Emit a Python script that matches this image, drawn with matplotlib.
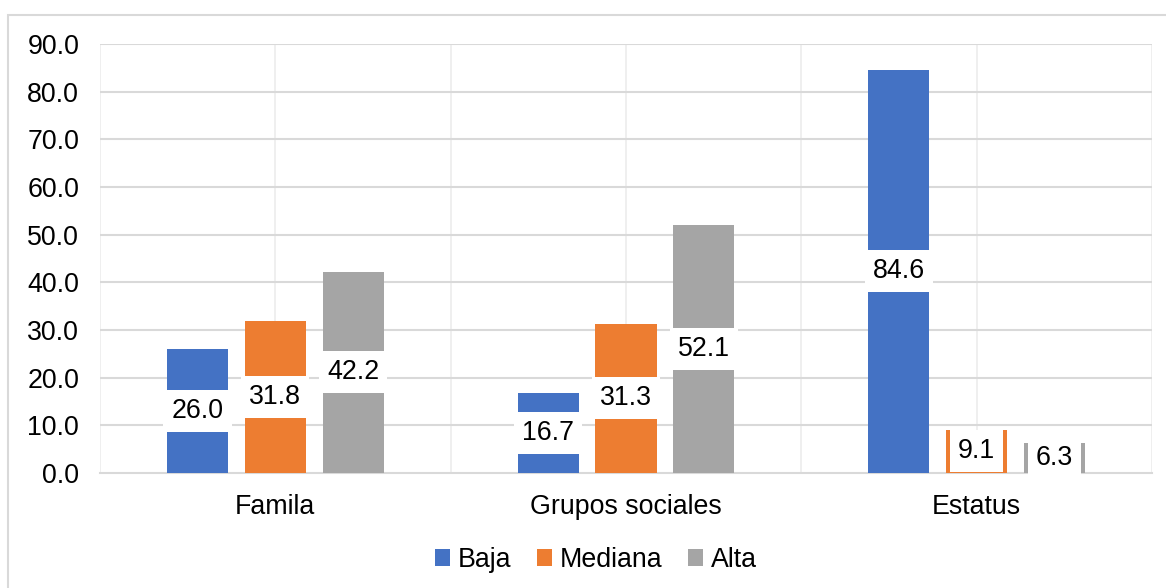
import numpy as np
import matplotlib
matplotlib.use("Agg")
import matplotlib.pyplot as plt
from matplotlib.patches import Rectangle

categories = ["Famila", "Grupos sociales", "Estatus"]
series = ["Baja", "Mediana", "Alta"]
baja = [26.0, 16.7, 84.6]
mediana = [31.8, 31.3, 9.1]
alta = [42.2, 52.1, 6.3]
colors = ["#4472C4", "#ED7D31", "#A5A5A5"]
yticks = [0, 10, 20, 30, 40, 50, 60, 70, 80, 90]

plt.rcParams["font.family"] = ["Liberation Sans", "DejaVu Sans"]
FS = 19.3

fig = plt.figure(figsize=(11.66, 5.88), dpi=100)
ax = fig.add_axes([100 / 1166, 1 - 473 / 588, 1052 / 1166, 429 / 588])

# outer chart border (cut off at right/bottom like the reference)
fig.patches.append(Rectangle((8 / 1166, -0.1), 1.2, 1 - 15 / 588 + 0.1,
                             transform=fig.transFigure, fill=False,
                             edgecolor="#d9d9d9", linewidth=1.5))

x = np.arange(len(categories))
width = 0.174
step = 0.222

for i, (name, vals) in enumerate(zip(series, [baja, mediana, alta])):
    bars = ax.bar(x + (i - 1) * step, vals, width, color=colors[i], label=name, zorder=3)
    for b, v in zip(bars, vals):
        ax.text(b.get_x() + b.get_width() / 2, v / 2, f"{v:.1f}",
                ha="center", va="center", fontsize=FS, zorder=4,
                bbox=dict(boxstyle="square,pad=0.3", fc="white", ec="none"))

ax.set_xlim(-0.5, 2.5)
ax.set_ylim(0, 90)
ax.set_yticks(yticks)
ax.set_yticklabels([f"{t:.1f}" for t in yticks], fontsize=FS)
ax.set_xticks(x)
ax.set_xticklabels(categories, fontsize=FS)
ax.tick_params(axis="both", length=0)
ax.tick_params(axis="y", pad=15)
ax.tick_params(axis="x", pad=15)

# gridlines
for t in yticks[1:]:
    ax.axhline(t, color="#d9d9d9", linewidth=1.5, zorder=1)
for gx in np.arange(-0.5, 2.51, 0.5):
    ax.axvline(gx, color="#ececec", linewidth=1.2, zorder=0)

for s in ["top", "right", "left"]:
    ax.spines[s].set_visible(False)
ax.spines["bottom"].set_color("#d9d9d9")
ax.spines["bottom"].set_linewidth(1.5)
ax.spines["bottom"].set_zorder(2)

fig.legend(loc="center", bbox_to_anchor=(596 / 1166, 1 - 560 / 588), ncol=3, frameon=False,
           fontsize=FS, handlelength=0.55, handleheight=0.55, handletextpad=0.3,
           columnspacing=0.95)

fig.savefig("out.png", dpi=100)
